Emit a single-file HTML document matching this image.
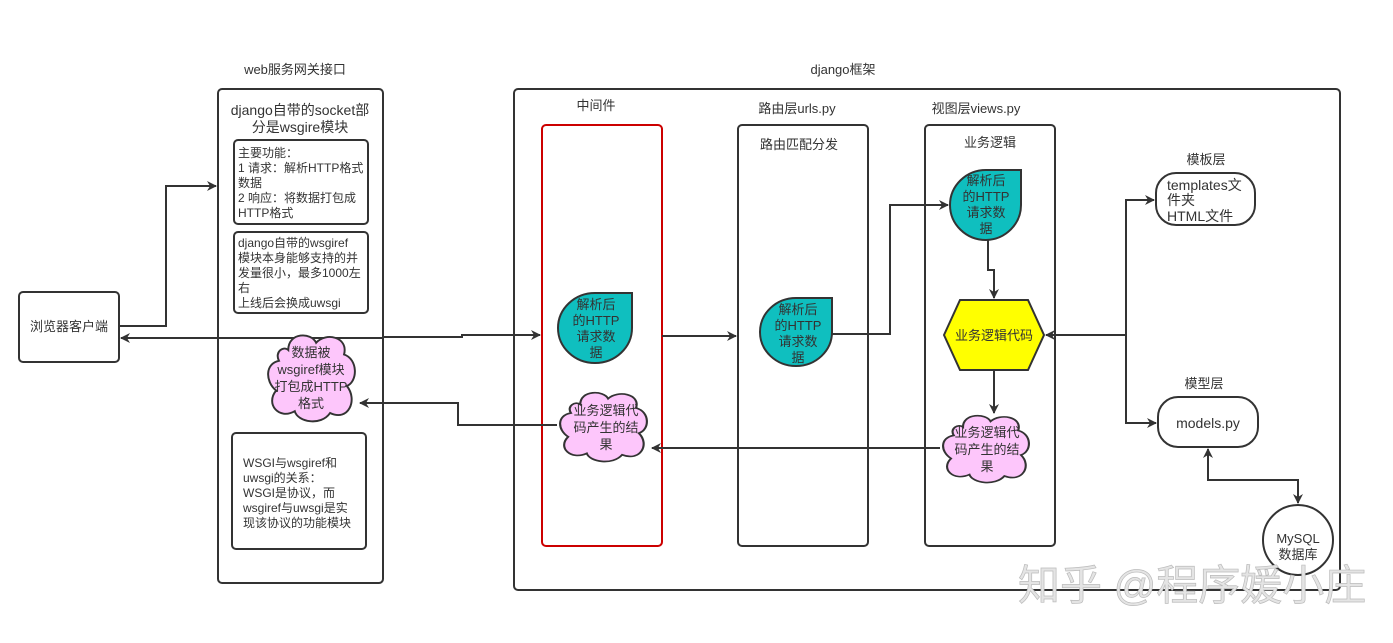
<!DOCTYPE html>
<html><head><meta charset="utf-8"><style>
html,body{margin:0;padding:0;background:#fff;}
svg{display:block;font-family:"Liberation Sans","Noto Sans CJK SC",sans-serif;}
text{font-size:12px;fill:#333;}
.m{font-size:13px;}
</style></head><body>
<svg width="1393" height="643" viewBox="0 0 1393 643" xmlns="http://www.w3.org/2000/svg">
<defs>
<marker id="a" viewBox="0 0 10 10" refX="9" refY="5" markerWidth="10" markerHeight="10" markerUnits="userSpaceOnUse" orient="auto"><path d="M0,0 L10,5 L0,10 L3,5 Z" fill="#333"/></marker>
<marker id="s" viewBox="0 0 10 10" refX="1" refY="5" markerWidth="10" markerHeight="10" markerUnits="userSpaceOnUse" orient="auto"><path d="M10,0 L0,5 L10,10 L7,5 Z" fill="#333"/></marker>
<path id="cl" d="M25,20 C25,0 50,0 55,12 C65,0 90,5 85,25 C100,30 100,55 88,60 C100,75 90,100 70,90 C60,105 35,100 32,88 C15,98 0,80 12,65 C0,55 0,35 15,32 C10,22 20,15 25,20 Z"/>
</defs>
<g fill="none" stroke="#333" stroke-width="2">
<rect x="19" y="292" width="100" height="70" rx="4" fill="#fff"/>
<rect x="218" y="89" width="165" height="494" rx="4"/>
<rect x="234" y="140" width="134" height="84" rx="4"/>
<rect x="234" y="232" width="134" height="81" rx="4"/>
<rect x="232" y="433" width="134" height="116" rx="4"/>
<rect x="514" y="89" width="826" height="501" rx="4"/>
<rect x="542" y="125" width="120" height="421" rx="4" stroke="#c00"/>
<rect x="738" y="125" width="130" height="421" rx="4"/>
<rect x="925" y="125" width="130" height="421" rx="4"/>
<rect x="1156" y="173" width="99" height="52" rx="20"/>
<rect x="1158" y="397" width="100" height="50" rx="20"/>
<path d="M119,326 H166 V186 H216" marker-end="url(#a)"/>
<path d="M383,338 H121" marker-end="url(#a)"/>
<path d="M383,337 H462 V335 H540" marker-end="url(#a)"/>
<path d="M662,336 H736" marker-end="url(#a)"/>
<path d="M832,334 H890 V205 H948" marker-end="url(#a)"/>
<path d="M988,239 V270 H994 V298" marker-end="url(#a)"/>
<path d="M994,370 V413" marker-end="url(#a)"/>
<path d="M940,448 H652" marker-end="url(#a)"/>
<path d="M557,425 H458 V403 H360" marker-end="url(#a)"/>
<path d="M1046,335 H1126" marker-start="url(#s)"/>
<path d="M1126,335 V200 H1154" marker-end="url(#a)"/>
<path d="M1126,335 V423 H1156" marker-end="url(#a)"/>
<path d="M1208,449 V480 H1298 V503" marker-start="url(#s)" marker-end="url(#a)"/>
<circle cx="1298" cy="540" r="35" fill="#fff"/>
</g>
<g fill="#fdc6fb" stroke="#333">
<use href="#cl" transform="translate(265,332) scale(0.93,0.9)" style="stroke-width:2.1"/>
<use href="#cl" transform="translate(557,390) scale(0.93,0.72)" style="stroke-width:2.3"/>
<use href="#cl" transform="translate(940,413) scale(0.92,0.7)" style="stroke-width:2.3"/>
</g>
<g fill="#0fbfbf" stroke="#333" stroke-width="2">
<path d="M558,328 A37,35 0 0 1 595,293 L632,293 L632,328 A37,35 0 0 1 595,363 A37,35 0 0 1 558,328 Z"/>
<path d="M760,332 A36,34 0 0 1 796,298 L832,298 L832,332 A36,34 0 0 1 796,366 A36,34 0 0 1 760,332 Z"/>
<path d="M950,205 A36,35 0 0 1 986,170 L1021,170 L1021,205 A36,35 0 0 1 986,240 A36,35 0 0 1 950,205 Z"/>
</g>
<polygon points="944,335 960,300 1028,300 1044,335 1028,370 960,370" fill="#ffff00" stroke="#333" stroke-width="2"/>
<g text-anchor="middle" class="m">
<text class="m" x="295" y="74">web服务网关接口</text>
<text class="m" x="843" y="74">django框架</text>
<text class="m" x="596" y="110">中间件</text>
<text class="m" x="797" y="113">路由层urls.py</text>
<text class="m" x="976" y="113">视图层views.py</text>
<text class="m" x="799" y="149">路由匹配分发</text>
<text class="m" x="990" y="147">业务逻辑</text>
<text class="m" x="1206" y="164">模板层</text>
<text class="m" x="1204" y="388">模型层</text>
<text class="m" x="69" y="331">浏览器客户端</text>
<text x="300" y="115" style="font-size:14px">django自带的socket部</text>
<text x="300" y="132" style="font-size:14px">分是wsgire模块</text>
<text class="m" x="311" y="357">数据被</text><text class="m" x="311" y="374">wsgiref模块</text><text class="m" x="311" y="391">打包成HTTP</text><text class="m" x="311" y="408">格式</text>
<text class="m" x="596" y="309">解析后</text><text class="m" x="596" y="325">的HTTP</text><text class="m" x="596" y="341">请求数</text><text class="m" x="596" y="357">据</text>
<text class="m" x="798" y="314">解析后</text><text class="m" x="798" y="330">的HTTP</text><text class="m" x="798" y="346">请求数</text><text class="m" x="798" y="362">据</text>
<text class="m" x="986" y="185">解析后</text><text class="m" x="986" y="201">的HTTP</text><text class="m" x="986" y="217">请求数</text><text class="m" x="986" y="233">据</text>
<text class="m" x="994" y="340">业务逻辑代码</text>
<text class="m" x="606" y="415">业务逻辑代</text><text class="m" x="606" y="432">码产生的结</text><text class="m" x="606" y="449">果</text>
<text class="m" x="987" y="437">业务逻辑代</text><text class="m" x="987" y="454">码产生的结</text><text class="m" x="987" y="471">果</text>
<text x="1208" y="428" style="font-size:14px">models.py</text>
<text class="m" x="1298" y="543">MySQL</text><text class="m" x="1298" y="559">数据库</text>
</g>
<g>
<text x="238" y="157">主要功能：</text><text x="238" y="172">1 请求：解析HTTP格式</text><text x="238" y="187">数据</text><text x="238" y="202">2 响应：将数据打包成</text><text x="238" y="217">HTTP格式</text>
<text x="238" y="247">django自带的wsgiref</text><text x="238" y="262">模块本身能够支持的并</text><text x="238" y="277">发量很小，最多1000左</text><text x="238" y="292">右</text><text x="238" y="307">上线后会换成uwsgi</text>
<text x="243" y="467">WSGI与wsgiref和</text><text x="243" y="482">uwsgi的关系：</text><text x="243" y="497">WSGI是协议，而</text><text x="243" y="512">wsgiref与uwsgi是实</text><text x="243" y="527">现该协议的功能模块</text>
<text x="1167" y="190" style="font-size:14px">templates文</text><text x="1167" y="205" style="font-size:14px">件夹</text><text x="1167" y="221" style="font-size:14px">HTML文件</text>
<text x="1018" y="600" style="font-size:42px;fill:#e4e4e4;stroke:#bbb;stroke-width:0.7">知乎 @程序媛小庄</text>
</g>
</svg>
</body></html>
